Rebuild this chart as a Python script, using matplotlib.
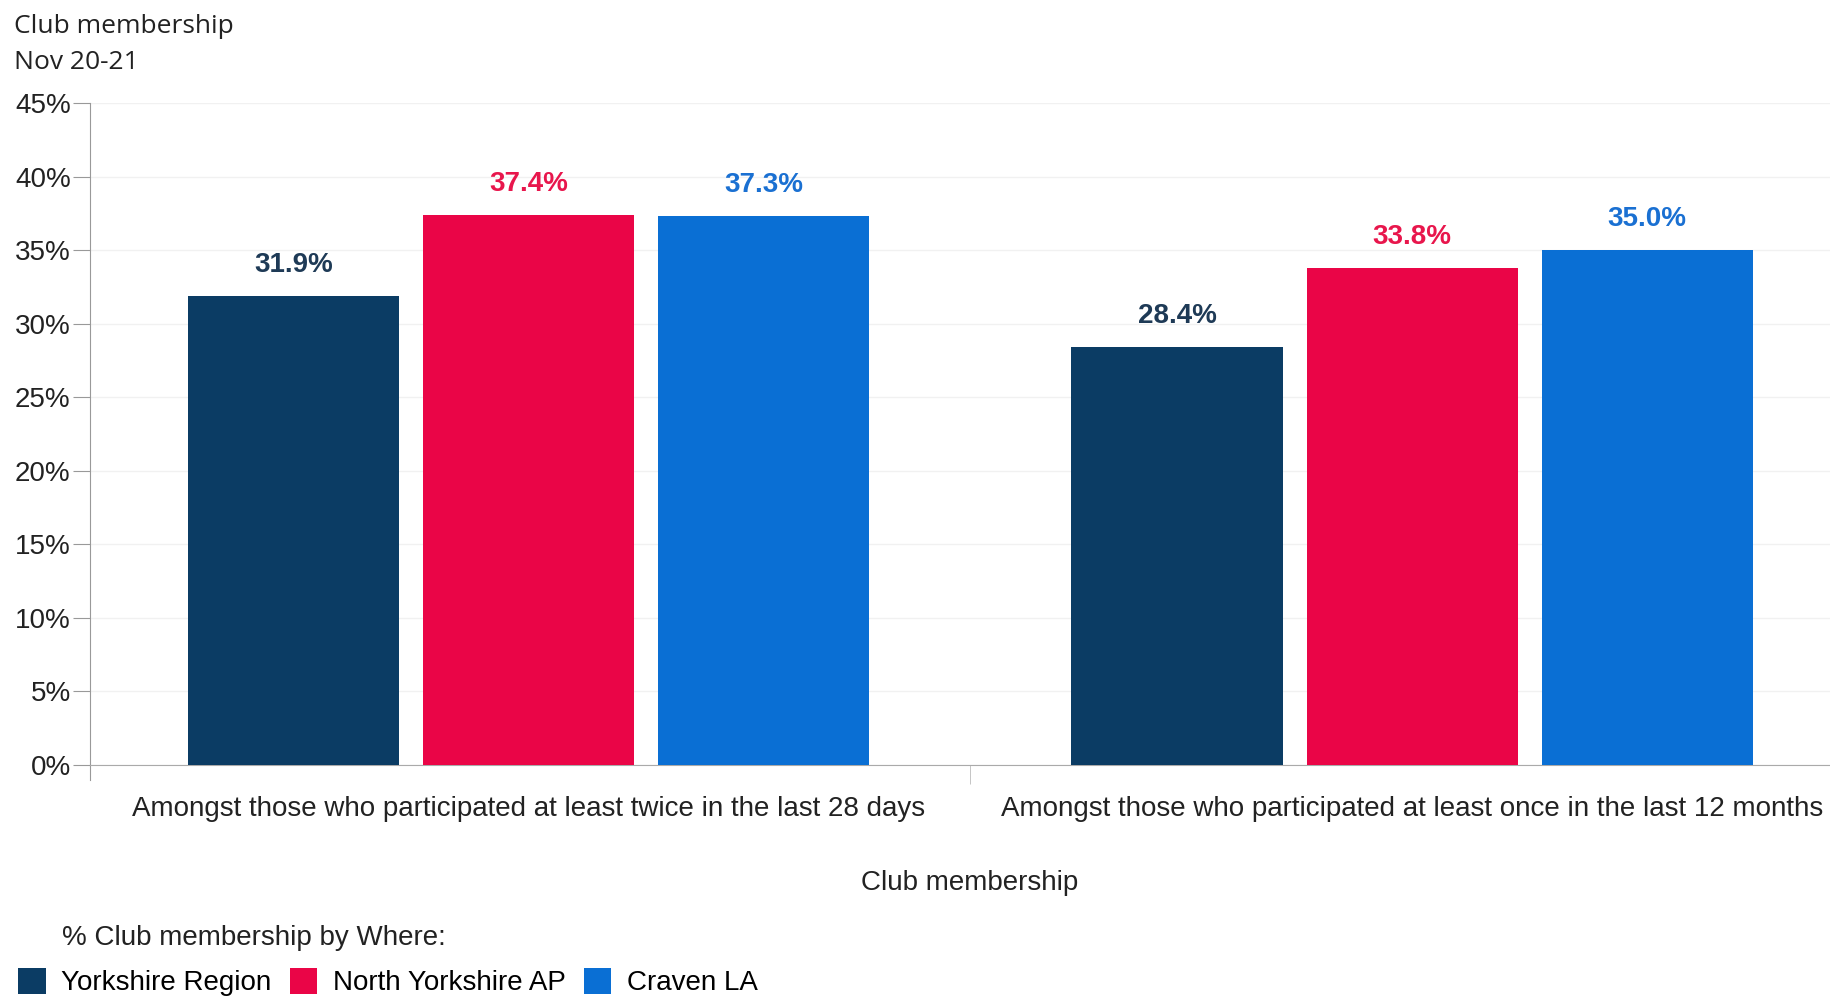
import matplotlib.pyplot as plt
import matplotlib.ticker as mticker
import numpy as np

# data
categories = ["Amongst those who participated at least twice in the last 28 days",
              "Amongst those who participated at least once in the last 12 months"]
series_names = ["Yorkshire Region", "North Yorkshire AP", "Craven LA"]
yorkshire = [31.9, 28.4]
north_yorkshire = [37.4, 33.8]
craven = [37.3, 35.0]

bar_colors = ["#0b3c64", "#ea0547", "#0a6fd4"]
label_colors = ["#1e3a56", "#e8164c", "#1a70d2"]

plt.rcParams['font.family'] = ['Liberation Sans', 'DejaVu Sans']

fig = plt.figure(figsize=(18.31, 9.96), dpi=100)
ax = fig.add_axes([0.0492, 0.2319, 0.9508, 0.6647])

x = np.arange(len(categories))
width = 0.239
step = 0.266
all_vals = [yorkshire, north_yorkshire, craven]
for i, vals in enumerate(all_vals):
    pos = x + (i - 1) * step
    ax.bar(pos, vals, width=width, color=bar_colors[i], label=series_names[i], zorder=3)
    for p, v in zip(pos, vals):
        ax.annotate(f"{v:.1f}%", (p, v), xytext=(0, 13), textcoords="offset points",
                    ha="center", va="bottom", fontsize=20, fontweight="bold",
                    color=label_colors[i])

ax.set_xlim(-0.496, 1.474)
ax.set_ylim(0, 45)
ax.yaxis.set_major_locator(mticker.MultipleLocator(5))
ax.yaxis.set_major_formatter(mticker.FuncFormatter(lambda v, p: f"{v:.0f}%"))
ax.grid(axis="y", color="#f1f1f1", linewidth=1, zorder=0)

ax.set_xticks(x)
ax.set_xticklabels(categories, fontsize=20, color="#222222")
ax.tick_params(axis="x", length=0, pad=22)
ax.set_xticks([0.5], minor=True)
ax.tick_params(axis="x", which="minor", length=14, color="#bbbbbb")
ax.tick_params(axis="y", length=12, color="#999999", labelsize=20, labelcolor="#222222", pad=2)

for s in ["top", "right"]:
    ax.spines[s].set_visible(False)
ax.spines["left"].set_color("#999999")
ax.spines["bottom"].set_color("#aaaaaa")
ax.spines["left"].set_bounds(-1, 45)

ax.set_xlabel("Club membership", fontsize=20, color="#222222", labelpad=35)
ax.xaxis.label.set_x(0.505)

fig.text(0.0076, 0.973, "Club membership", fontsize=19, family=["Open Sans", "DejaVu Sans"],
         color="#222222", va="center", ha="left")
fig.text(0.0076, 0.937, "Nov 20-21", fontsize=19, family=["Open Sans", "DejaVu Sans"],
         color="#222222", va="center", ha="left")

fig.text(0.034, 0.058, "% Club membership by Where:", fontsize=20, color="#222222",
         va="center", ha="left")
fig.legend(loc="center left", bbox_to_anchor=(0.010, 0.014), ncol=3, frameon=False,
           fontsize=20, handlelength=1.0, handleheight=1.1, handletextpad=0.55,
           columnspacing=0.65, borderaxespad=0, borderpad=0)

fig.savefig("out.png", dpi=100)
